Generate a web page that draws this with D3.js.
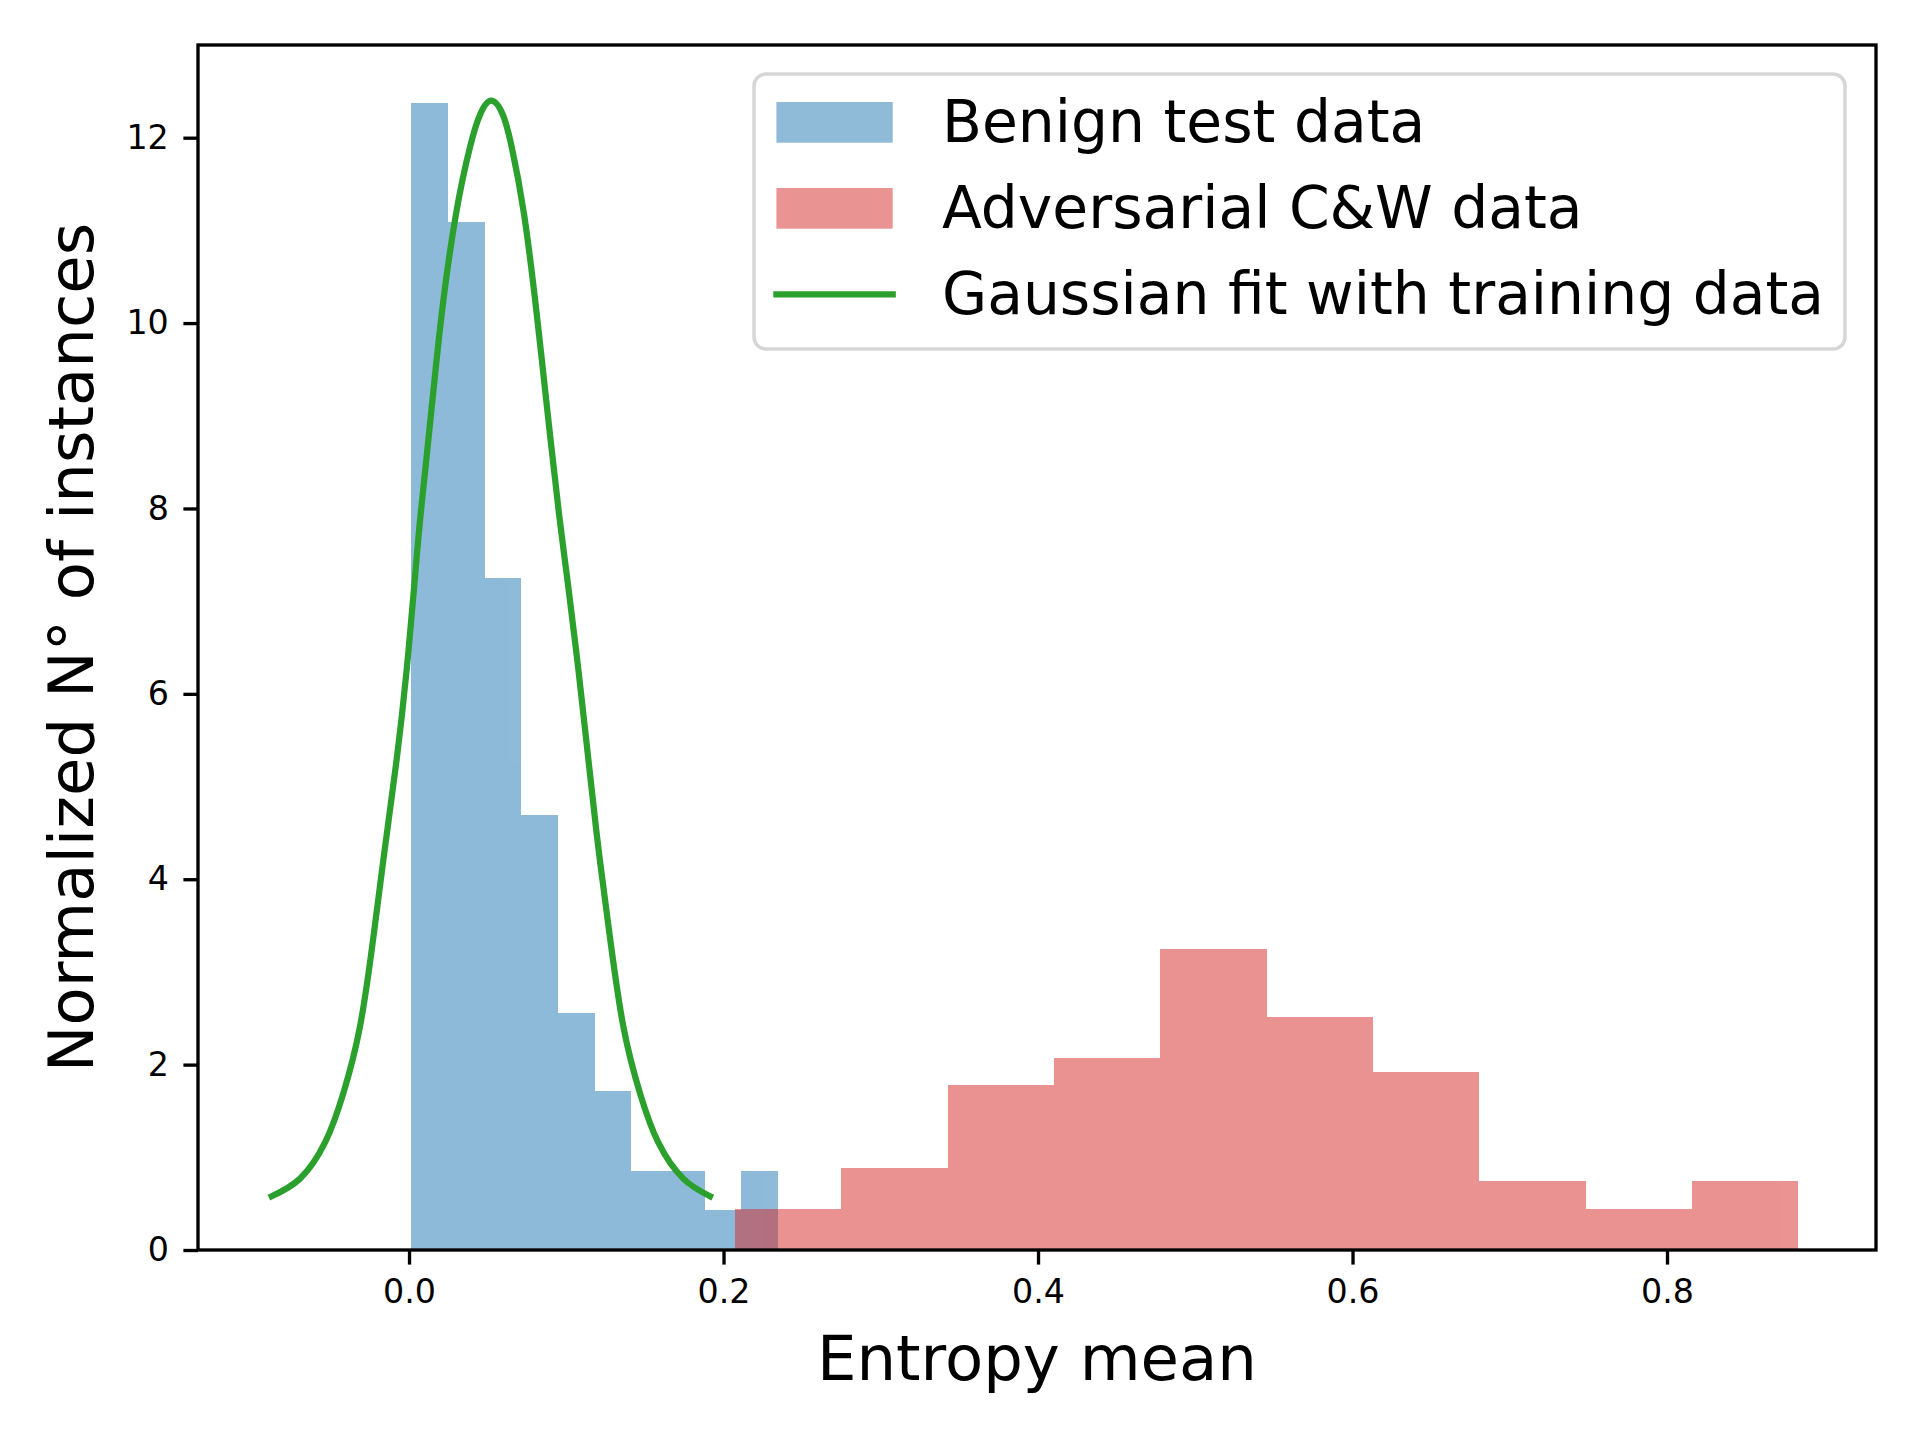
<!DOCTYPE html>
<html lang="en">
<head>
    <meta charset="UTF-8">
    <title>Entropy mean histogram</title>
    <script src="https://d3js.org/d3.v7.min.js"></script>
    <style>
        body { margin: 0; background: #fff; }
        svg { display: block; font-family: "DejaVu Sans", sans-serif; }
    </style>
</head>
<body>
<div id="chart"></div>
<script>
    // Benign test data histogram (density)
    const benignEdges = [0.0013, 0.0246, 0.0480, 0.0713, 0.0947, 0.1180, 0.1413, 0.1647, 0.1880, 0.2114, 0.2347];
    const benignDensity = [12.37, 11.09, 7.25, 4.69, 2.56, 1.71, 0.85, 0.85, 0.43, 0.85];

    // Adversarial C&W data histogram (density)
    const advEdges = [0.2072, 0.2748, 0.3425, 0.4101, 0.4777, 0.5454, 0.6130, 0.6806, 0.7483, 0.8159, 0.8835];
    const advDensity = [0.44, 0.89, 1.78, 2.07, 3.25, 2.51, 1.92, 0.74, 0.44, 0.74];

    // Gaussian fit curve
    const fitX = [-0.0873, -0.0693, -0.0534, -0.0418, -0.0312, -0.0227, -0.0153, -0.0078, -0.0015, 0.0036,
                  0.0074, 0.0140, 0.0208, 0.0299, 0.0388, 0.0452, 0.0523, 0.0596, 0.0653, 0.0731,
                  0.0812, 0.0882, 0.0954, 0.1008, 0.1077, 0.1140, 0.1204, 0.1278, 0.1363, 0.1469,
                  0.1585, 0.1744, 0.1914];
    const fitY = [0.58, 0.77, 1.16, 1.69, 2.41, 3.37, 4.34, 5.30, 6.26, 7.22,
                  7.94, 9.02, 10.10, 11.18, 11.90, 12.25, 12.40, 12.25, 11.90, 11.18,
                  10.10, 9.02, 7.94, 7.22, 6.26, 5.30, 4.34, 3.37, 2.41, 1.69,
                  1.16, 0.77, 0.58];

    const xTicks = [0.0, 0.2, 0.4, 0.6, 0.8];
    const yTicks = [0, 2, 4, 6, 8, 10, 12];
    const legendLabels = ["Benign test data", "Adversarial C&W data", "Gaussian fit with training data"];

    const W = 1920, H = 1440;
    const plot = { left: 198, right: 1876, top: 45, bottom: 1250 };

    const svg = d3.select("#chart").append("svg")
        .attr("width", W)
        .attr("height", H);

    svg.append("rect").attr("width", W).attr("height", H).attr("fill", "#fff");

    const x = d3.scaleLinear().domain([-0.1342, 0.9329]).range([plot.left, plot.right]);
    const y = d3.scaleLinear().domain([0, 13.0]).range([plot.bottom, plot.top]);

    // histograms: group opacity + crisp edges so adjacent bars have no seams
    function drawHist(edges, dens, color) {
        svg.append("g")
            .attr("opacity", 0.5)
            .selectAll("rect")
            .data(dens)
            .join("rect")
            .attr("x", (d, i) => Math.round(x(edges[i])))
            .attr("width", (d, i) => Math.round(x(edges[i + 1])) - Math.round(x(edges[i])))
            .attr("y", d => Math.round(y(d)))
            .attr("height", d => Math.round(y(0)) - Math.round(y(d)))
            .attr("shape-rendering", "crispEdges")
            .attr("fill", color);
    }
    drawHist(benignEdges, benignDensity, "#1f77b4");
    drawHist(advEdges, advDensity, "#d62728");

    // gaussian fit line
    const line = d3.line()
        .x(d => x(d[0]))
        .y(d => y(d[1]))
        .curve(d3.curveNatural);
    svg.append("path")
        .datum(d3.zip(fitX, fitY))
        .attr("d", line)
        .attr("fill", "none")
        .attr("stroke", "#2ca02c")
        .attr("stroke-width", 6.25)
        .attr("stroke-linecap", "square");

    // axes
    const tickLen = 14.6, lw = 3.33;
    const xAxis = svg.append("g")
        .attr("transform", `translate(0,${plot.bottom})`)
        .call(d3.axisBottom(x).tickValues(xTicks).tickFormat(d3.format(".1f"))
            .tickSize(tickLen).tickPadding(tickLen));
    const yAxis = svg.append("g")
        .attr("transform", `translate(${plot.left},0)`)
        .call(d3.axisLeft(y).tickValues(yTicks).tickFormat(d3.format("d"))
            .tickSize(tickLen).tickPadding(tickLen));
    [xAxis, yAxis].forEach(a => {
        a.select(".domain").remove();
        a.selectAll(".tick line").attr("stroke", "#000").attr("stroke-width", lw);
        a.selectAll(".tick text")
            .attr("fill", "#000")
            .style("font-size", "33.3px")
            .style("font-family", "DejaVu Sans, sans-serif");
    });

    // spines
    svg.append("rect")
        .attr("x", plot.left)
        .attr("y", plot.top)
        .attr("width", plot.right - plot.left)
        .attr("height", plot.bottom - plot.top)
        .attr("fill", "none")
        .attr("stroke", "#000")
        .attr("stroke-width", lw);

    // axis labels
    svg.append("text")
        .attr("x", (plot.left + plot.right) / 2)
        .attr("y", 1380)
        .attr("text-anchor", "middle")
        .style("font-size", "62.5px")
        .text("Entropy mean");

    svg.append("text")
        .attr("transform", `translate(93,${(plot.top + plot.bottom) / 2}) rotate(-90)`)
        .attr("text-anchor", "middle")
        .style("font-size", "62.5px")
        .text("Normalized N° of instances");

    // legend
    const lg = svg.append("g");
    lg.append("rect")
        .attr("x", 754)
        .attr("y", 74)
        .attr("width", 1091)
        .attr("height", 275)
        .attr("rx", 12)
        .attr("fill", "#fff")
        .attr("fill-opacity", 0.8)
        .attr("stroke", "#d6d6d6")
        .attr("stroke-width", 3.5);

    const rowY = [122.3, 208.3, 294.3];
    lg.append("rect")
        .attr("x", 776.4).attr("y", rowY[0] - 20.3)
        .attr("width", 116.3).attr("height", 40.7)
        .attr("fill", "#1f77b4").attr("fill-opacity", 0.5);
    lg.append("rect")
        .attr("x", 776.4).attr("y", rowY[1] - 20.3)
        .attr("width", 116.3).attr("height", 40.7)
        .attr("fill", "#d62728").attr("fill-opacity", 0.5);
    lg.append("line")
        .attr("x1", 776.4).attr("x2", 892.7)
        .attr("y1", rowY[2]).attr("y2", rowY[2])
        .attr("stroke", "#2ca02c")
        .attr("stroke-width", 6.25)
        .attr("stroke-linecap", "square");

    lg.selectAll("text.lab")
        .data(legendLabels)
        .join("text")
        .attr("class", "lab")
        .attr("x", 942)
        .attr("y", (d, i) => rowY[i] + 20)
        .style("font-size", "58.3px")
        .text(d => d);
</script>
</body>
</html>
